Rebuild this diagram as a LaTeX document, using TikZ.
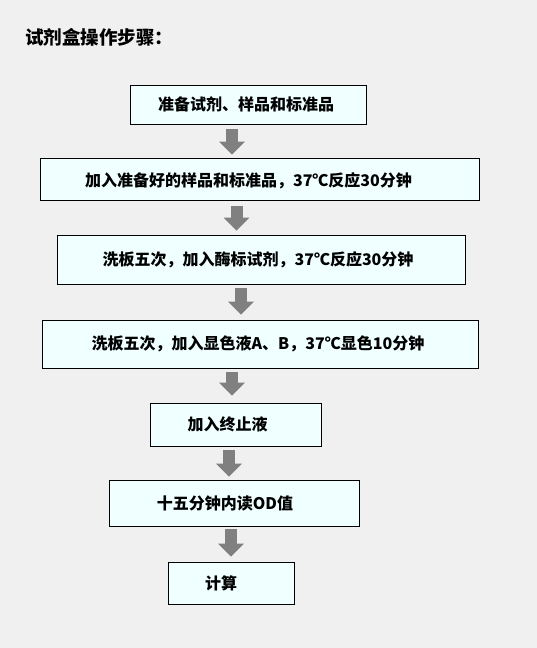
\documentclass[tikz,border=0pt]{standalone}
\usepackage{fontspec}
\usepackage{xcolor}
\usepackage{tikz}
\usetikzlibrary{arrows.meta,positioning}
\setmainfont{Noto Sans CJK SC}
\definecolor{bgcolor}{RGB}{240, 240, 240}
\definecolor{boxcolor}{RGB}{240, 255, 255}
\definecolor{arrowcolor}{RGB}{128, 128, 128}

\begin{document}
\begin{tikzpicture}[
    x=1pt, y=-1pt,
    stepbox/.style={draw=black, line width=0.8pt, fill=boxcolor, inner sep=0pt},
    steptext/.style={font=\fontsize{16}{19}\selectfont\bfseries},
    flowarrow/.style={draw=arrowcolor, line width=12pt, -{Triangle[width=25pt, length=13pt]}}
]
    \fill[bgcolor] (0,0) rectangle (537,648);
    \useasboundingbox (0,0) rectangle (537,648);

    % Title
    \node[anchor=west, inner sep=0pt, font=\fontsize{18.5}{22}\selectfont\bfseries] (title) at (25,37) {试剂盒操作步骤：};

    % Steps
    \node[stepbox, minimum width=236pt, minimum height=39pt,
        label={[steptext, xshift=-2pt]center:准备试剂、样品和标准品}] (prep) at (248,104.5) {};
    \node[stepbox, minimum width=439pt, minimum height=42pt,
        label={[steptext, xshift=-11pt, yshift=-2pt]center:加入准备好的样品和标准品，37℃反应30分钟}] (sample) at (259.5,179) {};
    \node[stepbox, minimum width=408pt, minimum height=49pt,
        label={[steptext, xshift=-3pt]center:洗板五次，加入酶标试剂，37℃反应30分钟}] (enzyme) at (261,259.5) {};
    \node[stepbox, minimum width=436pt, minimum height=48pt,
        label={[steptext, xshift=-2pt]center:洗板五次，加入显色液A、B，37℃显色10分钟}] (color) at (260,344) {};
    \node[stepbox, minimum width=171pt, minimum height=43pt,
        label={[steptext, xshift=-8pt]center:加入终止液}] (stop) at (235.5,424.5) {};
    \node[stepbox, minimum width=250pt, minimum height=46pt,
        label={[steptext, xshift=-9pt]center:十五分钟内读OD值}] (read) at (234,503) {};
    \node[stepbox, minimum width=126pt, minimum height=42pt,
        label={[steptext, xshift=-10pt]center:计算}] (calc) at (231,583) {};

    % Arrows
    \draw[flowarrow, shorten <=5pt, shorten >=3pt] ([xshift=-16pt]prep.south) -- ([xshift=-16pt]prep.south |- sample.north);
    \draw[flowarrow, shorten <=6pt, shorten >=4pt] ([xshift=-23pt]sample.south) -- ([xshift=-23pt]sample.south |- enzyme.north);
    \draw[flowarrow, shorten <=4pt, shorten >=5pt] ([xshift=-20pt]enzyme.south) -- ([xshift=-20pt]enzyme.south |- color.north);
    \draw[flowarrow, shorten <=4pt, shorten >=7pt] ([xshift=-28pt]color.south) -- ([xshift=-28pt]color.south |- stop.north);
    \draw[flowarrow, shorten <=4pt, shorten >=3pt] ([xshift=-6.5pt]stop.south) -- ([xshift=-6.5pt]stop.south |- read.north);
    \draw[flowarrow, shorten <=3pt, shorten >=5pt] ([xshift=-3pt]read.south) -- ([xshift=-3pt]read.south |- calc.north);
\end{tikzpicture}
\end{document}
